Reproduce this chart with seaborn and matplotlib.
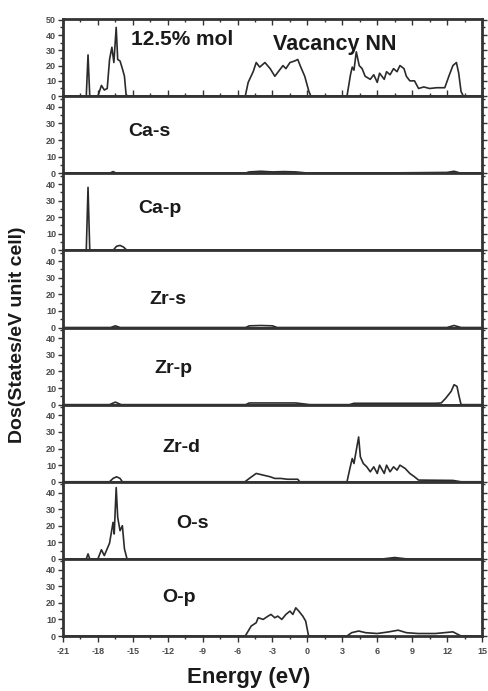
import matplotlib
matplotlib.use("Agg")
import matplotlib.pyplot as plt
from matplotlib.ticker import MultipleLocator
import seaborn as sns

sns.set_style("white")
plt.rcParams["font.family"] = ["Liberation Sans", "DejaVu Sans"]
plt.rcParams["axes.unicode_minus"] = False

# ---- total DOS ----
total_e = [-21, -19.0, -18.85, -18.7, -18.0, -17.7, -17.45, -17.2, -17.0, -16.8, -16.63, -16.43,
           -16.3, -16.1, -15.9, -15.72, -15.58, -15.44,
           -5.34, -5.09, -4.66, -4.4, -4.1, -3.65, -3.2, -2.8, -2.5, -2.1, -1.85, -1.5, -1.1,
           -0.83, -0.57, -0.23, 0.13, 0.3,
           3.4, 3.7, 3.85, 4.0, 4.2, 4.45, 4.7, 4.96, 5.4, 5.7, 6.0, 6.2, 6.6, 6.8, 7.1, 7.4,
           7.7, 7.95, 8.3, 8.5, 8.8, 9.2, 9.55, 10.0, 10.5, 11.1, 11.8, 12.2, 12.5, 12.8, 13.0,
           13.2, 13.4, 15]
total_dos = [0, 0, 27, 0, 0, 7, 4, 5, 24, 32, 22, 45,
             24, 23, 18, 13, 1, 0,
             0, 9, 16, 22, 19, 22, 18, 13, 16, 20, 18, 22, 23,
             24, 19, 13, 3, 0,
             0, 14, 19, 17, 29, 20, 18, 13, 11, 14, 9, 15, 11, 16, 14, 18,
             16, 20, 18, 13, 10, 10, 5, 6, 5, 5.5, 5.5, 14, 20, 22, 15,
             3, 0, 0]

# ---- Ca projected DOS ----
ca_s_e = [-21, -17.0, -16.7, -16.4, -5.4, -5.0, -4.0, -3.0, -2.0, -1.0, 0.2, 3.6, 12.0, 12.6, 13.2, 15]
ca_s_dos = [0, 0, 1.0, 0, 0, 0.8, 1.2, 0.8, 1.0, 0.8, 0, 0, 0.5, 1.2, 0, 0]

ca_p_e = [-21, -19.0, -18.85, -18.7, -16.7, -16.4, -16.1, -15.8, -15.5, 15]
ca_p_dos = [0, 0, 38, 0, 0, 2.5, 3.0, 2.0, 0, 0]

# ---- Zr projected DOS ----
zr_s_e = [-21, -16.9, -16.5, -16.1, -5.3, -5.0, -4.0, -3.0, -2.6, 12.0, 12.6, 13.2, 15]
zr_s_dos = [0, 0, 1.0, 0, 0, 1.0, 1.2, 1.0, 0, 0, 1.2, 0, 0]

zr_p_e = [-21, -17.0, -16.5, -16.0, -5.3, -5.0, -3.0, -1.0, 0.2, 3.6, 4.0, 8.0, 11.0, 11.5,
          11.9, 12.35, 12.6, 12.85, 13.0, 13.2, 15]
zr_p_dos = [0, 0, 1.5, 0, 0, 1.0, 1.0, 1.0, 0, 0, 0.8, 0.8, 0.8, 1,
            4, 8, 12, 11, 6, 0, 0]

zr_d_e = [-21, -17.0, -16.7, -16.4, -16.1, -15.9, -5.37, -4.8, -4.4, -3.8, -3.2, -2.8, -2.3,
          -1.7, -0.83, -0.66, 3.4, 3.65, 3.85, 4.0, 4.4, 4.55, 4.8, 5.1, 5.4, 5.7, 6.0, 6.2,
          6.6, 6.8, 7.1, 7.4, 7.7, 7.95, 8.4, 8.8, 9.2, 9.55, 12.5, 13.2, 15]
zr_d_dos = [0, 0, 2, 3, 2, 0, 0, 3, 5, 4, 3, 2, 2,
            1.5, 1.5, 0, 0, 8, 14, 11, 27, 15, 11, 9, 6, 9, 5, 10,
            5, 10, 6, 9, 7, 10, 8, 5, 3, 1, 0.8, 0, 0]

# ---- O projected DOS ----
o_s_e = [-21, -19.0, -18.85, -18.7, -18.0, -17.7, -17.45, -17.0, -16.7, -16.6, -16.43, -16.3,
         -16.1, -15.9, -15.72, -15.5, 6.5, 7.5, 8.5, 15]
o_s_dos = [0, 0, 3, 0, 0, 5.5, 2, 9.5, 22, 15, 43, 25,
           17, 20, 6, 0, 0, 0.8, 0, 0]

o_p_e = [-21, -5.34, -4.83, -4.4, -4.23, -3.8, -3.38, -3.13, -2.8, -2.55, -2.2, -1.85, -1.5,
         -1.25, -1.0, -0.74, -0.4, -0.15, 0.1, 3.4, 3.8, 4.4, 5.0, 6.0, 7.0, 7.8, 8.5, 9.5,
         11.0, 12.5, 13.2, 15]
o_p_dos = [0, 0, 6, 8, 11, 10, 12, 13, 11, 12, 10, 13, 15,
           13, 17, 15, 12, 9, 0, 0, 2, 3, 2, 1.5, 2.5, 3.5, 2, 1.5,
           1.5, 2.5, 0, 0]

panel_names = ["12.5% mol", "Ca-s", "Ca-p", "Zr-s", "Zr-p", "Zr-d", "O-s", "O-p"]
panel_data = [(total_e, total_dos), (ca_s_e, ca_s_dos), (ca_p_e, ca_p_dos), (zr_s_e, zr_s_dos),
              (zr_p_e, zr_p_dos), (zr_d_e, zr_d_dos), (o_s_e, o_s_dos), (o_p_e, o_p_dos)]
# label anchor (energy, dos) for each panel title
label_pos = [(-10.8, 37), (-13.6, 25), (-12.7, 25), (-12.0, 17), (-11.5, 22),
             (-10.8, 20.5), (-9.85, 21.5), (-11.0, 23)]

x_ticks = list(range(-21, 16, 3))

fig = plt.figure(figsize=(4.89, 6.91), dpi=100)
gs = fig.add_gridspec(8, 1, left=63 / 489, right=482 / 489, top=1 - 19 / 691,
                      bottom=1 - 636 / 691, hspace=0)

line_col = "#2b2b2b"
spine_col = "#333333"
tick_col = "#4a4a4a"

axes = []
for i, ((e, d), name, (lx, ly)) in enumerate(zip(panel_data, panel_names, label_pos)):
    ax = fig.add_subplot(gs[i, 0])
    axes.append(ax)
    sns.lineplot(x=e, y=d, ax=ax, color=line_col, linewidth=1.2, estimator=None, sort=False)
    ax.set_xlim(-21, 15)
    if i == 0:
        ax.set_ylim(0, 50.5)
        ax.set_yticks([0, 10, 20, 30, 40, 50])
    else:
        ax.set_ylim(0, 46.5)
        ax.set_yticks([0, 10, 20, 30, 40])
    ax.yaxis.set_minor_locator(MultipleLocator(5))
    ax.set_xticks(x_ticks)
    ax.xaxis.set_minor_locator(MultipleLocator(1.5))
    for sp in ax.spines.values():
        sp.set_linewidth(2.0)
        sp.set_color(spine_col)
        sp.set_visible(True)
    ax.tick_params(axis="both", which="both", colors=spine_col, labelcolor=tick_col,
                   labelsize=6.5, width=1.0)
    ax.tick_params(axis="x", which="major", direction="out", length=4, bottom=True,
                   top=False)
    ax.tick_params(axis="x", which="minor", direction="out", length=2.5, bottom=True,
                   top=False)
    ax.tick_params(axis="y", which="major", direction="out", length=3.5, left=True,
                   right=True, pad=1.5)
    ax.tick_params(axis="y", which="minor", direction="out", length=2, left=True, right=True)
    ax.tick_params(axis="y", which="both", labelright=False)
    if i == 0:
        ax.xaxis.set_tick_params(which="both", direction="in", top=True, bottom=True)
    if i < 7:
        ax.tick_params(axis="x", labelbottom=False)
    else:
        ax.tick_params(axis="x", labelbottom=True, pad=4)
    ax.set_xlabel("")
    ax.set_ylabel("")
    for lab in ax.get_xticklabels() + ax.get_yticklabels():
        lab.set_fontweight("bold")
    ax.text(lx, ly, name, ha="center", va="center", fontsize=15 if i == 0 else 14,
            fontweight="bold", color="#1a1a1a")

axes[0].text(2.36, 34, "Vacancy NN", ha="center", va="center", fontsize=15.5,
             fontweight="bold", color="#1a1a1a")

fig.text(18 / 489, 1 - 335 / 691, "Dos(States/eV unit cell)", rotation=90, ha="center",
         va="center", fontsize=14, fontweight="bold", color="#1a1a1a")
fig.text(249 / 489, 1 - 677 / 691, "Energy (eV)", ha="center", va="center", fontsize=16,
         fontweight="bold", color="#1a1a1a")

fig.savefig("out.png", dpi=100)
